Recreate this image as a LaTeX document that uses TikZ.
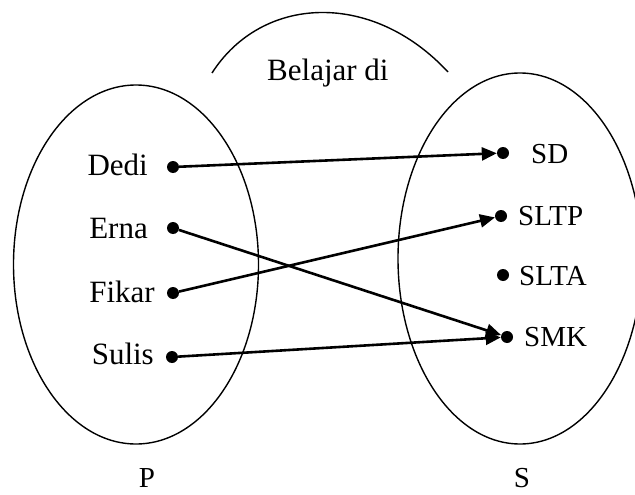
\documentclass[tikz,border=0pt]{standalone}
\usepackage{fontspec}
\setmainfont{Liberation Serif}
\usetikzlibrary{arrows.meta}
\tikzset{
  pt/.style={circle,fill=black,inner sep=0pt,minimum size=12pt},
  lbl/.style={inner sep=0pt,font=\fontsize{31}{36}\selectfont},
  rlbl/.style={inner sep=0pt,font=\fontsize{29}{34}\selectfont},
  link/.style={line width=2.6pt,-{Triangle[length=15pt,width=13pt]}},
  setline/.style={line width=1.4pt}
}
\begin{document}
\begin{tikzpicture}[x=1pt,y=-1pt]
\useasboundingbox (0,0) rectangle (635,495);
% sets
\draw[setline] (136,264.5) ellipse [x radius=122.5, y radius=179.5];
\draw[setline] (520,258.5) ellipse [x radius=122, y radius=185.5];
% relation arc and label
\draw[setline] (212,73) .. controls (262,-5) and (372,-10) .. (448,72);
\node[lbl,anchor=base west] (rel) at (267,81) {Belajar di};
% left elements
\node[pt] (dDedi) at (173,167) {};
\node[pt] (dErna) at (173,228) {};
\node[pt] (dFikar) at (173,293) {};
\node[pt] (dSulis) at (172,357) {};
\node[lbl,anchor=base east] (tDedi) at (148,175) {Dedi};
\node[lbl,anchor=base east] (tErna) at (148,238) {Erna};
\node[lbl,anchor=base east] (tFikar) at (155,302) {Fikar};
\node[lbl,anchor=base east] (tSulis) at (154,364) {Sulis};
% right elements
\node[pt] (dSD) at (503,153) {};
\node[pt] (dSLTP) at (501,216) {};
\node[pt] (dSLTA) at (503,275) {};
\node[pt] (dSMK) at (507,337) {};
\node[rlbl,anchor=base west] (tSD) at (531,163) {SD};
\node[rlbl,anchor=base west] (tSLTP) at (518,225) {SLTP};
\node[rlbl,anchor=base west] (tSLTA) at (519,285) {SLTA};
\node[rlbl,anchor=base west] (tSMK) at (524,346) {SMK};
% set names
\node[rlbl,anchor=base] (P) at (147,487) {P};
\node[rlbl,anchor=base] (S) at (522,487) {S};
% mappings
\draw[link] (dDedi) -- (dSD);
\draw[link] (dErna) -- (dSMK);
\draw[link] (dFikar) -- (dSLTP);
\draw[link] (dSulis) -- (dSMK);
\end{tikzpicture}
\end{document}
